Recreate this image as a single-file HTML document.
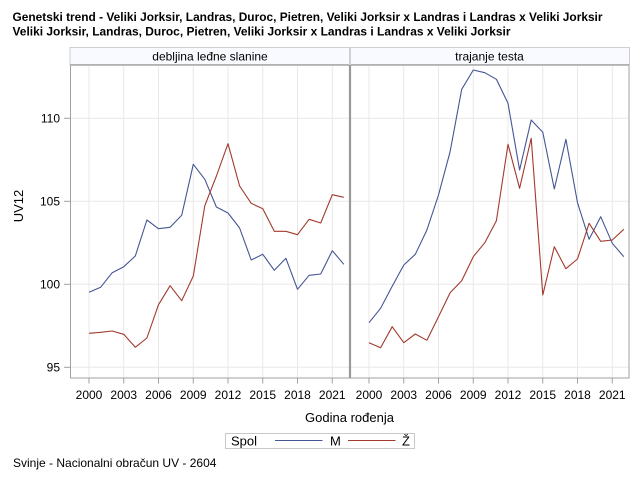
<!DOCTYPE html>
<html><head><meta charset="utf-8"><style>
html,body{margin:0;padding:0;background:#fff;}
svg{display:block;}
text{font-family:"Liberation Sans",Arial,sans-serif;fill:#000;}
</style></head><body>
<svg width="640" height="480" viewBox="0 0 640 480" xmlns="http://www.w3.org/2000/svg">
<rect width="640" height="480" fill="#fff"/>
<!-- titles -->
<text x="12.5" y="21" font-size="12" font-weight="bold" textLength="590" lengthAdjust="spacingAndGlyphs">Genetski trend - Veliki Jorksir, Landras, Duroc, Pietren, Veliki Jorksir x Landras i Landras x Veliki Jorksir</text>
<text x="12.5" y="35.5" font-size="12" font-weight="bold" textLength="498" lengthAdjust="spacingAndGlyphs">Veliki Jorksir, Landras, Duroc, Pietren, Veliki Jorksir x Landras i Landras x Veliki Jorksir</text>
<!-- header -->
<rect x="70" y="47.5" width="559.5" height="17" fill="#f8faff" stroke="#cfcfcf" stroke-width="1"/>
<line x1="70" y1="65" x2="629.5" y2="65" stroke="#a8a8a8" stroke-width="1.5"/>
<line x1="350" y1="47.5" x2="350" y2="65" stroke="#d0d0d0" stroke-width="2"/>
<text x="210" y="60.5" font-size="12" text-anchor="middle">debljina leđne slanine</text>
<text x="489.5" y="60.5" font-size="12" text-anchor="middle">trajanje testa</text>
<!-- gridlines -->
<g stroke="#e8e8e8" stroke-width="1">
<line x1="70" y1="118.3" x2="629" y2="118.3"/>
<line x1="70" y1="201.3" x2="629" y2="201.3"/>
<line x1="70" y1="284.3" x2="629" y2="284.3"/>
<line x1="70" y1="367.3" x2="629" y2="367.3"/>
<line x1="89" y1="66" x2="89" y2="378"/>
<line x1="123.75" y1="66" x2="123.75" y2="378"/>
<line x1="158.5" y1="66" x2="158.5" y2="378"/>
<line x1="193.25" y1="66" x2="193.25" y2="378"/>
<line x1="228" y1="66" x2="228" y2="378"/>
<line x1="262.75" y1="66" x2="262.75" y2="378"/>
<line x1="297.5" y1="66" x2="297.5" y2="378"/>
<line x1="332.25" y1="66" x2="332.25" y2="378"/>
<line x1="369" y1="66" x2="369" y2="378"/>
<line x1="403.75" y1="66" x2="403.75" y2="378"/>
<line x1="438.5" y1="66" x2="438.5" y2="378"/>
<line x1="473.25" y1="66" x2="473.25" y2="378"/>
<line x1="508" y1="66" x2="508" y2="378"/>
<line x1="542.75" y1="66" x2="542.75" y2="378"/>
<line x1="577.5" y1="66" x2="577.5" y2="378"/>
<line x1="612.25" y1="66" x2="612.25" y2="378"/>
</g>
<!-- frames -->
<g fill="none" stroke="#a0a0a0" stroke-width="1">
<line x1="70.5" y1="65" x2="70.5" y2="378"/>
<line x1="629" y1="65" x2="629" y2="378"/>
<line x1="70" y1="378" x2="629.5" y2="378"/>
</g>
<line x1="350" y1="65" x2="350" y2="378" stroke="#999" stroke-width="2.2"/>
<!-- y ticks -->
<g stroke="#a0a0a0" stroke-width="1">
<line x1="64" y1="118.3" x2="70" y2="118.3"/>
<line x1="64" y1="201.3" x2="70" y2="201.3"/>
<line x1="64" y1="284.3" x2="70" y2="284.3"/>
<line x1="64" y1="367.3" x2="70" y2="367.3"/>
</g>
<g font-size="12" text-anchor="end">
<text x="60" y="122.5">110</text>
<text x="60" y="205.5">105</text>
<text x="60" y="288.5">100</text>
<text x="60" y="371.5">95</text>
</g>
<text transform="translate(23,206) rotate(-90)" font-size="13" text-anchor="middle">UV12</text>
<!-- x ticks -->
<g stroke="#a0a0a0" stroke-width="1">
<line x1="89" y1="378" x2="89" y2="383.5"/>
<line x1="123.75" y1="378" x2="123.75" y2="383.5"/>
<line x1="158.5" y1="378" x2="158.5" y2="383.5"/>
<line x1="193.25" y1="378" x2="193.25" y2="383.5"/>
<line x1="228" y1="378" x2="228" y2="383.5"/>
<line x1="262.75" y1="378" x2="262.75" y2="383.5"/>
<line x1="297.5" y1="378" x2="297.5" y2="383.5"/>
<line x1="332.25" y1="378" x2="332.25" y2="383.5"/>
<line x1="369" y1="378" x2="369" y2="383.5"/>
<line x1="403.75" y1="378" x2="403.75" y2="383.5"/>
<line x1="438.5" y1="378" x2="438.5" y2="383.5"/>
<line x1="473.25" y1="378" x2="473.25" y2="383.5"/>
<line x1="508" y1="378" x2="508" y2="383.5"/>
<line x1="542.75" y1="378" x2="542.75" y2="383.5"/>
<line x1="577.5" y1="378" x2="577.5" y2="383.5"/>
<line x1="612.25" y1="378" x2="612.25" y2="383.5"/>
</g>
<g font-size="12" text-anchor="middle">
<text x="89" y="399">2000</text>
<text x="123.75" y="399">2003</text>
<text x="158.5" y="399">2006</text>
<text x="193.25" y="399">2009</text>
<text x="228" y="399">2012</text>
<text x="262.75" y="399">2015</text>
<text x="297.5" y="399">2018</text>
<text x="332.25" y="399">2021</text>
<text x="369" y="399">2000</text>
<text x="403.75" y="399">2003</text>
<text x="438.5" y="399">2006</text>
<text x="473.25" y="399">2009</text>
<text x="508" y="399">2012</text>
<text x="542.75" y="399">2015</text>
<text x="577.5" y="399">2018</text>
<text x="612.25" y="399">2021</text>
</g>
<text x="349.5" y="422" font-size="13" text-anchor="middle">Godina rođenja</text>
<!-- series left -->
<polyline fill="none" stroke="#445694" stroke-width="1.1" stroke-linejoin="round" points="89,292.3 100.6,287.3 112.2,272.7 123.8,266.7 135.3,256 146.9,220 158.5,228.7 170.1,227.3 181.7,215.3 193.3,164.3 204.8,179.3 216.4,207 228,213 239.6,228 251.2,260 262.8,254.3 274.3,270.3 285.9,258.3 297.5,289.3 309.1,275.3 320.7,274 332.3,250.7 343.8,264.3"/>
<polyline fill="none" stroke="#A23A2E" stroke-width="1.1" stroke-linejoin="round" points="89,333.3 100.6,332.3 112.2,331 123.8,334.3 135.3,347.3 146.9,338 158.5,304.7 170.1,285.7 181.7,300.7 193.3,276 204.8,205.7 216.4,176 228,143.7 239.6,186 251.2,203.3 262.8,208.7 274.3,231.3 285.9,231.3 297.5,234.7 309.1,219.3 320.7,223 332.3,194.7 343.8,197.3"/>
<!-- series right -->
<polyline fill="none" stroke="#445694" stroke-width="1.1" stroke-linejoin="round" points="369,322.7 380.6,308.3 392.2,286.3 403.8,265 415.3,254.3 426.9,230 438.5,195 450.1,151.7 461.7,89.3 473.3,70 484.8,72.7 496.4,79.3 508,103.3 519.6,170 531.2,120 542.8,132.3 554.3,189 565.9,139.3 577.5,202.7 589.1,239.3 600.7,216.7 612.3,243.3 623.8,256.7"/>
<polyline fill="none" stroke="#A23A2E" stroke-width="1.1" stroke-linejoin="round" points="369,342.7 380.6,347.7 392.2,326.7 403.8,342.7 415.3,334 426.9,340.3 438.5,316.7 450.1,292.7 461.7,280.7 473.3,256.7 484.8,242.7 496.4,220.7 508,144.3 519.6,188.3 531.2,138.3 542.8,295 554.3,246.7 565.9,268.7 577.5,259 589.1,223.3 600.7,241.3 612.3,240 623.8,229.3"/>
<!-- legend -->
<rect x="225.5" y="433.5" width="189" height="15" fill="#fff" stroke="#c8c8c8" stroke-width="1"/>
<text x="231" y="445.5" font-size="13">Spol</text>
<line x1="275" y1="440.5" x2="322.5" y2="440.5" stroke="#445694" stroke-width="1.1"/>
<text x="330" y="445.5" font-size="13">M</text>
<line x1="348" y1="440.5" x2="395.5" y2="440.5" stroke="#A23A2E" stroke-width="1.1"/>
<text x="402" y="445.5" font-size="13">Ž</text>
<!-- footnote -->
<text x="13" y="467" font-size="12">Svinje - Nacionalni obračun UV - 2604</text>
</svg>
</body></html>
